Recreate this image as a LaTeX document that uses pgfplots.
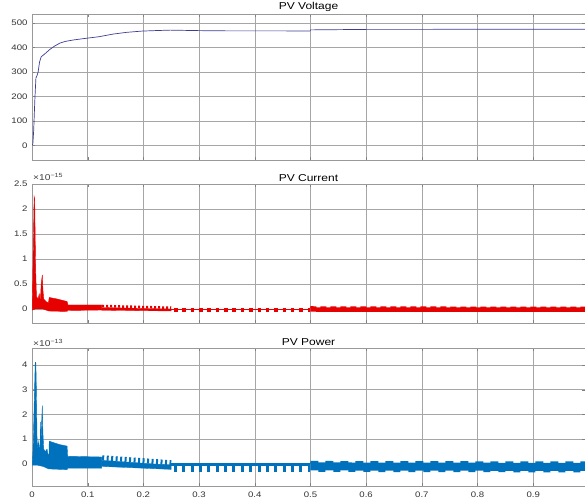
\documentclass[border=0pt]{standalone}
\usepackage{fontspec}
\setmainfont{Liberation Sans}[FakeStretch=1.2]
\usepackage{pgfplots}
\pgfplotsset{compat=1.18}
\definecolor{vcol}{RGB}{60,60,150}
\definecolor{icol}{RGB}{230,0,0}
\definecolor{pcol}{RGB}{0,114,189}
\pgfplotsset{
 base/.style={scale only axis, width=553pt, xmin=0, xmax=0.993,
  grid=major, major grid style={black!35, line width=0.5pt},
  axis line style={black!40}, tick style={black!50}, tick align=inside,
  major tick length=3pt,
  xtick={0,0.1,0.2,0.3,0.4,0.5,0.6,0.7,0.8,0.9},
  ticklabel style={font=\fontsize{8}{9}\selectfont, text=black!80},
  /pgf/number format/assume math mode=true,
  yticklabel style={xshift=-1pt},
  xticklabel style={yshift=-2pt},
  anchor=south west,
  title style={font=\fontsize{10}{12}\selectfont, at={(0.5,1)}, anchor=south, inner sep=1.5pt, yshift=-5pt},
  scaled y ticks=false},
}
\begin{document}
\begin{tikzpicture}
\path[use as bounding box] (0,0) rectangle (585pt,502pt);
% ---------------- Voltage
\begin{axis}[base, at={(32pt,342pt)}, height=146pt, ymin=-60, ymax=537,
  ytick={0,100,200,300,400,500}, xticklabels={}, title={PV Voltage}]
\addplot[vcol, line width=0.7pt] coordinates {
(0,0) (0.0015,5) (0.003,60) (0.005,180) (0.007,275) (0.009,285) (0.011,300)
(0.0135,340) (0.0165,362) (0.022,372) (0.032,392) (0.04,405) (0.05,418)
(0.06,425) (0.075,431) (0.095,437) (0.12,444) (0.146,455) (0.17,462)
(0.197,467) (0.22,469) (0.248,471) (0.3,469) (0.35,468) (0.4,468) (0.45,468)
(0.499,467) (0.5,472) (0.55,473) (0.6,474) (0.7,474) (0.8,475) (0.9,475) (0.993,475)};
\end{axis}
% ---------------- Current
\begin{axis}[base, at={(32pt,179pt)}, height=139pt, ymin=-0.28, ymax=2.5,
  ytick={0,0.5,1,1.5,2,2.5}, yticklabels={0,0.5,1,1.5,2,2.5}, xticklabels={},
  title={PV Current}]
\addplot[fill=icol, draw=icol, line width=0.4pt] coordinates {
(0.0005,0) (0.002,1.0) (0.0038,2.25) (0.0048,2.2) (0.0065,0.8) (0.008,0.25)
(0.011,0.2) (0.013,0.3) (0.015,0.15) (0.0165,0.5) (0.0185,0.68) (0.0195,0.4)
(0.021,0.2) (0.025,0.15) (0.0295,0.12) (0.031,0.23) (0.045,0.2) (0.063,0.15)
(0.0645,0.08) (0.125,0.08) (0.125,-0.02) (0.064,-0.03) (0.063,-0.05)
(0.03,-0.04) (0.02,0) (0.005,0) (0.0005,-0.02)} -- cycle;
\addplot[fill=icol, draw=icol, line width=0.3pt] coordinates {
(0.125,0.03) (0.25,0.0) (0.25,-0.04) (0.125,-0.025)} -- cycle;
\addplot[icol, line width=2.5pt, dash pattern=on 2pt off 2pt] coordinates {(0.126,0.06) (0.25,0.025)};
\addplot[icol, line width=1.5pt] coordinates {(0.25,-0.015) (0.5,-0.015)};
\addplot[icol, line width=4.5pt, dash pattern=on 3.5pt off 4.85pt] coordinates {(0.255,-0.02) (0.5,-0.02)};
\addplot[icol, line width=4.5pt] coordinates {(0.5,-0.01) (0.993,-0.015)};
\addplot[icol, line width=2pt, dash pattern=on 6pt off 4pt] coordinates {(0.5,0.035) (0.993,0.025)};
\end{axis}
\node[anchor=south west, inner sep=0pt, font=\fontsize{8.5}{9}\selectfont, text=black!75] at (33pt,321pt) {×10\textsuperscript{−15}};
% ---------------- Power
\begin{axis}[base, at={(32pt,16pt)}, height=138pt, ymin=-0.89, ymax=4.68,
  ytick={0,1,2,3,4},
  xticklabels={0,0.1,0.2,0.3,0.4,0.5,0.6,0.7,0.8,0.9},
  title={PV Power}]
\addplot[fill=pcol, draw=pcol, line width=0.4pt] coordinates {
(0.0005,0) (0.002,0.6) (0.004,2.5) (0.0058,4.1) (0.0068,4.1) (0.0075,3.5)
(0.009,1.1) (0.010,0.6) (0.012,0.9) (0.013,0.5) (0.0145,0.8) (0.0155,1.7)
(0.016,0.6) (0.017,1.5) (0.0185,2.35) (0.0195,1.3) (0.021,0.6) (0.024,0.5)
(0.027,0.6) (0.029,0.35) (0.0305,0.4) (0.031,0.92) (0.04,0.85) (0.05,0.78)
(0.063,0.72) (0.064,0.31) (0.125,0.28) (0.125,-0.17) (0.064,-0.17)
(0.063,-0.23) (0.03,-0.2) (0.02,-0.1) (0.01,-0.05) (0.0005,-0.05)} -- cycle;
\addplot[fill=pcol, draw=pcol, line width=0.3pt] coordinates {
(0.125,0.15) (0.25,-0.05) (0.25,-0.22) (0.125,-0.1)} -- cycle;
\addplot[pcol, line width=5pt, dash pattern=on 2pt off 2.5pt] coordinates {(0.126,0.25) (0.25,0.05)};
\addplot[pcol, line width=3pt] coordinates {(0.25,-0.025) (0.5,-0.025)};
\addplot[pcol, line width=5.5pt, dash pattern=on 3pt off 5.35pt] coordinates {(0.255,-0.2) (0.5,-0.2)};
\addplot[pcol, line width=8pt] coordinates {(0.5,-0.1) (0.993,-0.12)};
\addplot[pcol, line width=3pt, dash pattern=on 8pt off 7pt] coordinates {(0.5,0.06) (0.993,0.04)};
\addplot[pcol, line width=2pt, dash pattern=on 7pt off 8pt, dash phase=7pt] coordinates {(0.5,-0.28) (0.993,-0.3)};
\end{axis}
\node[anchor=south west, inner sep=0pt, font=\fontsize{8.5}{9}\selectfont, text=black!75] at (33pt,155pt) {×10\textsuperscript{−13}};
\end{tikzpicture}
\end{document}
